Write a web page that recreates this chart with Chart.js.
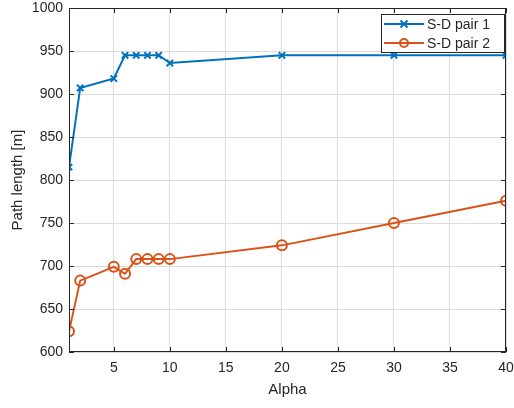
<!DOCTYPE html>
<html>
<head>
<meta charset="utf-8">
<script src="https://cdn.jsdelivr.net/npm/chart.js@4"></script>
<style>
  html, body { margin: 0; padding: 0; background: #fff; }
  #wrap { width: 514px; height: 408px; }
</style>
</head>
<body>
<div id="wrap"><canvas id="pathChart"></canvas></div>
<script>
const alpha = [1, 2, 5, 6, 7, 8, 9, 10, 20, 30, 40];
const pair1 = [815, 907, 918, 945, 945, 945, 945, 936, 945, 945, 945];
const pair2 = [624, 683, 699, 691, 708, 708, 708, 708, 724, 750, 776];
const xTicks = [5, 10, 15, 20, 25, 30, 35, 40];
const seriesNames = ["S-D pair 1", "S-D pair 2"];

const BLUE = "#0072BD";
const ORANGE = "#D95319";
const INK = "#262626";
const FONT = "'Liberation Sans', Arial, sans-serif";

// MATLAB style box, inward ticks and inset legend
const boxPlugin = {
    id: "boxPlugin",
    afterDraw(chart) {
        const c = chart.ctx;
        const a = chart.chartArea;
        const xs = chart.scales.x;
        const ys = chart.scales.y;
        c.save();
        c.strokeStyle = INK;
        c.lineWidth = 1;
        c.strokeRect(a.left + 0.5, a.top + 0.5, a.right - a.left - 1, a.bottom - a.top - 1);
        c.beginPath();
        xs.ticks.forEach(t => {
            const px = Math.round(xs.getPixelForValue(t.value)) + 0.5;
            c.moveTo(px, a.bottom); c.lineTo(px, a.bottom - 5);
            c.moveTo(px, a.top); c.lineTo(px, a.top + 5);
        });
        ys.ticks.forEach(t => {
            const py = Math.round(ys.getPixelForValue(t.value)) + 0.5;
            c.moveTo(a.left, py); c.lineTo(a.left + 5, py);
            c.moveTo(a.right, py); c.lineTo(a.right - 5, py);
        });
        c.stroke();

        // legend
        const lx = 381, ly = 14, lw = 123, lh = 38;
        c.fillStyle = "#fff";
        c.fillRect(lx, ly, lw, lh);
        c.strokeStyle = INK;
        c.strokeRect(lx + 0.5, ly + 0.5, lw, lh);
        chart.data.datasets.forEach((ds, i) => {
            const y = ly + 10 + i * 19;
            c.strokeStyle = ds.borderColor;
            c.lineWidth = 2;
            c.beginPath();
            c.moveTo(lx + 3, y); c.lineTo(lx + 43, y);
            c.stroke();
            const mx = lx + 23;
            c.beginPath();
            if (ds.pointStyle === "circle") {
                c.arc(mx, y, 4, 0, Math.PI * 2);
            } else {
                c.moveTo(mx - 3.5, y - 3.5); c.lineTo(mx + 3.5, y + 3.5);
                c.moveTo(mx + 3.5, y - 3.5); c.lineTo(mx - 3.5, y + 3.5);
            }
            c.stroke();
            c.fillStyle = INK;
            c.font = "14px " + FONT;
            c.textBaseline = "middle";
            c.fillText(ds.label, lx + 46, y + 1);
        });
        c.restore();
    }
};

const ctx = document.getElementById("pathChart").getContext("2d");
const pathChart = new Chart(ctx, {
    type: "line",
    data: {
        datasets: [
            {
                label: seriesNames[0],
                data: alpha.map((a, i) => ({ x: a, y: pair1[i] })),
                borderColor: BLUE,
                backgroundColor: BLUE,
                borderWidth: 2,
                pointStyle: "crossRot",
                pointRadius: 4.5,
                pointBorderWidth: 2,
                pointBorderColor: BLUE,
                tension: 0,
            },
            {
                label: seriesNames[1],
                data: alpha.map((a, i) => ({ x: a, y: pair2[i] })),
                borderColor: ORANGE,
                backgroundColor: "rgba(0,0,0,0)",
                borderWidth: 2,
                pointStyle: "circle",
                pointRadius: 5,
                pointBorderWidth: 2,
                pointBorderColor: ORANGE,
                tension: 0,
            },
        ],
    },
    options: {
        responsive: true,
        maintainAspectRatio: false,
        animation: false,
        devicePixelRatio: 1,
        layout: { padding: { left: 0, right: 8, top: 8, bottom: 0 } },
        plugins: {
            legend: { display: false },
            tooltip: { enabled: false },
        },
        scales: {
            x: {
                type: "linear",
                min: 1,
                max: 40,
                afterBuildTicks: (scale) => {
                    scale.ticks = xTicks.map(v => ({ value: v }));
                },
                afterFit: (scale) => {
                    scale.height = 56;
                    scale.paddingLeft = 0;
                    scale.paddingRight = 0;
                },
                grid: { color: "#dcdcdc", drawTicks: false },
                border: { display: false },
                ticks: { color: INK, font: { family: FONT, size: 14 }, padding: 8, maxRotation: 0 },
                title: {
                    display: true,
                    text: "Alpha",
                    color: INK,
                    font: { family: FONT, size: 15 },
                    padding: { top: 2, bottom: 9 },
                },
            },
            y: {
                min: 600,
                max: 1000,
                ticks: {
                    stepSize: 50,
                    color: INK,
                    font: { family: FONT, size: 14 },
                    padding: 6,
                    callback: (v) => String(v),
                },
                afterFit: (scale) => {
                    scale.width = 69;
                    scale.paddingTop = 0;
                    scale.paddingBottom = 0;
                },
                grid: { color: "#dcdcdc", drawTicks: false },
                border: { display: false },
                title: {
                    display: true,
                    text: "Path length [m]",
                    color: INK,
                    font: { family: FONT, size: 15 },
                    padding: { top: 9, bottom: 2 },
                },
            },
        },
    },
    plugins: [boxPlugin],
});
</script>
</body>
</html>
